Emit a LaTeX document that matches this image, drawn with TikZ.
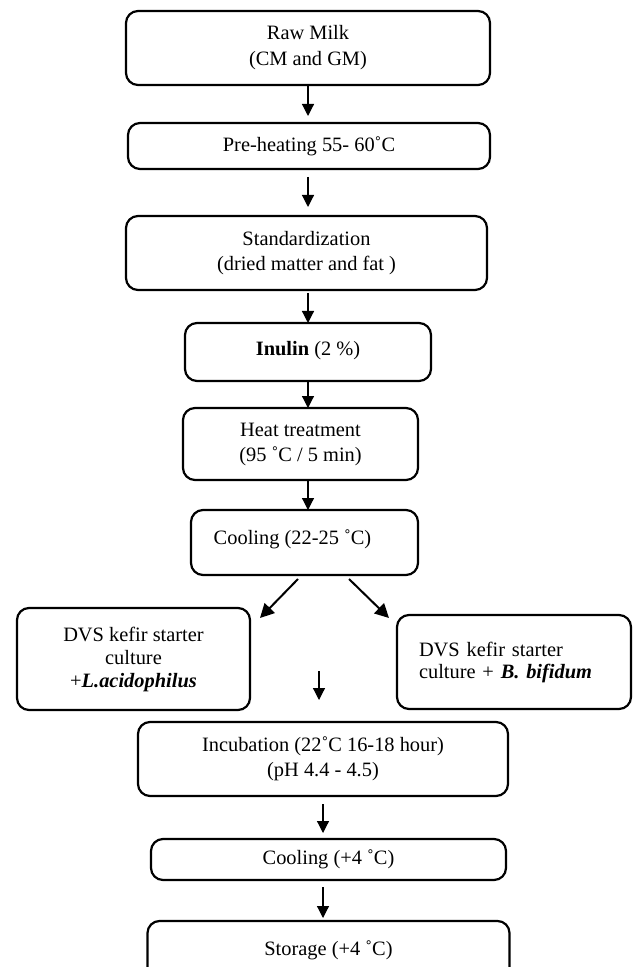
\documentclass[tikz,border=0pt]{standalone}
\usepackage{fontspec}
\setmainfont{Liberation Serif}
\usetikzlibrary{arrows.meta,positioning,calc}
\tikzset{
  stagebox/.style={shape=rectangle, rounded corners=6pt, draw=black, line width=1.1pt, align=center, inner sep=2pt, outer sep=0pt, font=\fontsize{10.2}{12.5}\selectfont},
  flow/.style={-{Triangle[length=6pt,width=6pt]}, line width=0.6pt, draw=black},
  split/.style={-{Triangle[length=7pt,width=7pt]}, line width=1pt, draw=black}
}

\begin{document}
\begin{tikzpicture}
  \useasboundingbox (0,0) rectangle (316.5pt,-483.5pt);

  \node[stagebox, minimum width=182pt, minimum height=37pt] (raw) at (154pt,-24pt) {Raw Milk\\[0.5pt](CM and GM)};
  \node[stagebox, minimum width=181pt, minimum height=23pt, below=19pt of raw, xshift=0.5pt] (preheat) {Pre-heating 55- 60˚C};
  \node[stagebox, minimum width=180.5pt, minimum height=37pt, below=23.5pt of preheat, xshift=-1.25pt] (stand) {Standardization\\(dried matter and fat )};
  \node[stagebox, minimum width=123pt, minimum height=29pt, below=16.5pt of stand, xshift=0.75pt] (inulin) {\raisebox{4pt}{\textbf{Inulin} (2 \%)}};
  \node[stagebox, minimum width=117.5pt, minimum height=36pt, below=13.5pt of inulin, xshift=-3.75pt] (heat) {Heat treatment\\(95 ˚C / 5 min)};
  \node[stagebox, minimum width=113.5pt, minimum height=32.5pt, below=15pt of heat, xshift=2pt] (cool) {\raisebox{5.5pt}{Cooling (22-25 ˚C)}\hspace*{12pt}};

  \node[stagebox, minimum width=116.5pt, minimum height=51pt, below=16.5pt of cool, xshift=-85.5pt] (lacto) {DVS kefir starter\\[-1pt]culture\\[-1pt]+\textbf{\textit{L.acidophilus}}};
  \node[stagebox, minimum width=117pt, minimum height=47pt, text width=95pt, inner xsep=11pt, align=left, below=20pt of cool, xshift=104.75pt] (bifid) {DVS kefir starter\\[-1.5pt]culture + \textbf{\textit{B. bifidum}}};

  \node[stagebox, minimum width=185pt, minimum height=37pt, below=73.5pt of cool, xshift=9.25pt] (incub) {Incubation (22˚C 16-18 hour)\\(pH 4.4 - 4.5)};
  \node[stagebox, minimum width=177.5pt, minimum height=20.5pt, below=21.5pt of incub, xshift=2.75pt] (cooltwo) {\raisebox{-5.5pt}{Cooling (+4 ˚C)}};
  \node[stagebox, minimum width=181pt, minimum height=31pt, below=20.5pt of cooltwo] (storage) {\raisebox{4pt}{Storage (+4 ˚C)}};

  \draw[flow, shorten >=3.5pt] (raw.south) -- (raw.south |- preheat.north);
  \draw[flow, shorten <=4pt, shorten >=4.5pt] (preheat.south -| inulin) -- (stand.north -| inulin);
  \draw[flow, shorten <=1.5pt] (stand.south -| inulin) -- (inulin.north);
  \draw[flow] (inulin.south) -- (inulin.south |- heat.north);
  \draw[flow] (heat.south -| inulin) -- (cool.north -| inulin);

  % split to the two starter cultures
  \draw[split] ($(cool.south)+(-3.25pt,-2pt)$) -- ($(lacto.north east)+(5pt,-5pt)$);
  \draw[split] ($(cool.south)+(22.25pt,-2pt)$) -- ($(bifid.north west)+(-4pt,-1.5pt)$);

  \coordinate (join) at ($(incub.north)+(-2pt,25.5pt)$);
  \draw[flow, shorten >=11pt] (join) -- (join |- incub.north);

  \draw[flow, shorten <=4pt, shorten >=3pt] (incub.south) -- (incub.south |- cooltwo.north);
  \draw[flow, shorten <=3.5pt, shorten >=1.5pt] (cooltwo.south -| incub) -- (storage.north -| incub);
\end{tikzpicture}
\end{document}
